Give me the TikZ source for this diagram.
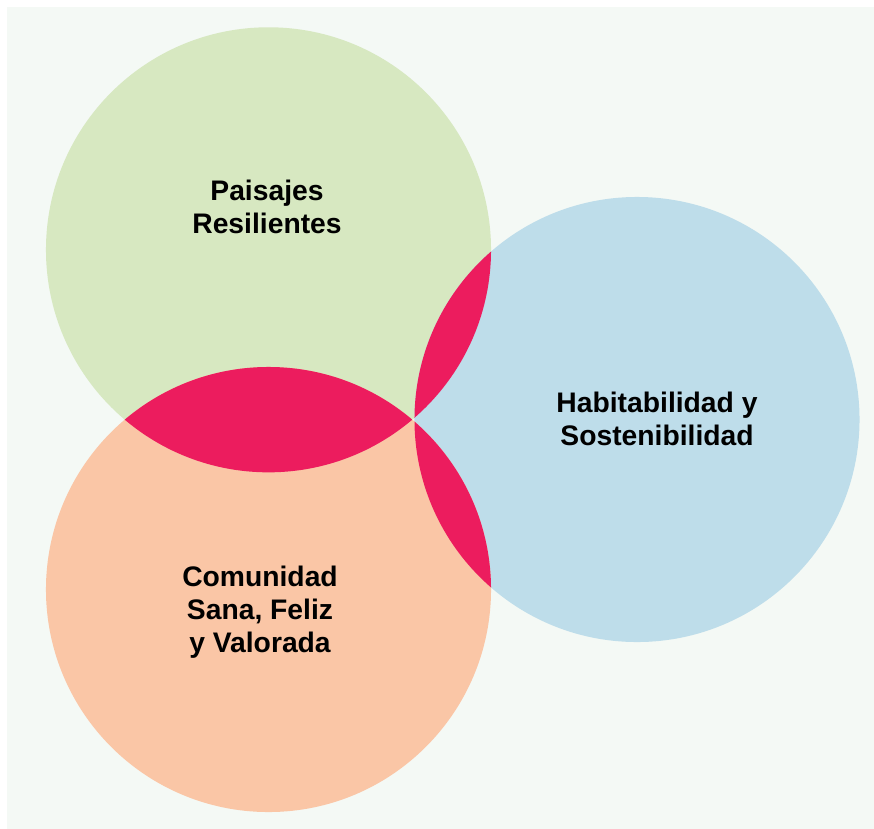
\documentclass[tikz,border=0pt]{standalone}
\usepackage{fontspec}
\setmainfont{Liberation Sans}
\definecolor{bgpaper}{HTML}{F4F9F5}
\definecolor{verde}{HTML}{D7E8C1}
\definecolor{celeste}{HTML}{BEDDEA}
\definecolor{salmon}{HTML}{FAC6A6}
\definecolor{fucsia}{HTML}{EC1C5E}
\tikzset{
  etiqueta/.style={align=center,font=\bfseries\fontsize{21.2}{24.8}\selectfont,text=black}
}
\begin{document}
\begin{tikzpicture}[x=0.75pt,y=-0.75pt]
  \def\rad{166.9pt}
  \useasboundingbox (0,0) rectangle (874,828);
  \fill[white] (0,0) rectangle (874,828);
  \fill[bgpaper] (7,7) rectangle (884,838);
  \coordinate (paisajes) at (268.5,249.8);
  \coordinate (habitab) at (637,419.5);
  \coordinate (comunidad) at (268.5,589.5);
  \fill[verde] (paisajes) circle (\rad);
  \fill[celeste] (habitab) circle (\rad);
  \fill[salmon] (comunidad) circle (\rad);
  \begin{scope}
    \clip (paisajes) circle (\rad);
    \fill[fucsia] (comunidad) circle (\rad);
    \fill[fucsia] (habitab) circle (\rad);
  \end{scope}
  \begin{scope}
    \clip (comunidad) circle (\rad);
    \fill[fucsia] (habitab) circle (\rad);
  \end{scope}
  \node[etiqueta] (lblpaisajes) at (267,207) {Paisajes\\Resilientes};
  \node[etiqueta] (lblhabitab) at (657,419) {Habitabilidad y\\Sostenibilidad};
  \node[etiqueta] (lblcomunidad) at (260,612) {Comunidad\\Sana, Feliz\\y Valorada};
\end{tikzpicture}
\end{document}
